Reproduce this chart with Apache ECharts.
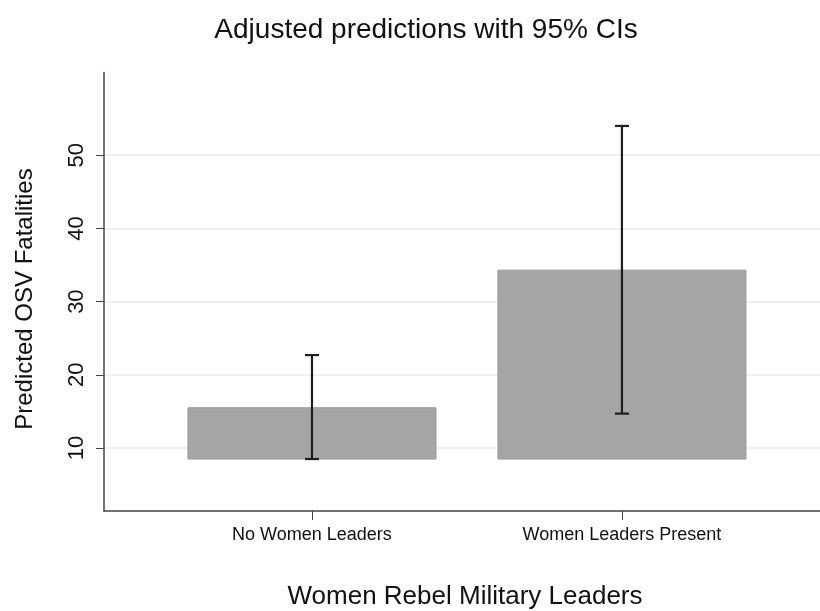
<!DOCTYPE html>
<html>
<head>
<meta charset="utf-8">
<script src="https://cdn.jsdelivr.net/npm/echarts@6/dist/echarts.min.js"></script>
<style>
html,body{margin:0;padding:0;background:#fff;}
#chart{width:820px;height:611px;}
</style>
</head>
<body>
<div id="chart"></div>
<script>
// ---- data ----
var categories = ['No Women Leaders', 'Women Leaders Present'];
var categoryPos = [1, 2];
var predicted = [15.5, 34.3];
var ciLower = [8.5, 14.7];
var ciUpper = [22.7, 54.0];
var barBase = 8.5;
var yTicks = [10, 20, 30, 40, 50];

var FONT = '"Liberation Sans", Arial, Helvetica, sans-serif';

var seriesData = categories.map(function (c, i) {
  return [categoryPos[i], predicted[i], ciLower[i], ciUpper[i]];
});

var chart = echarts.init(document.getElementById('chart'));

chart.setOption({
  backgroundColor: '#ffffff',
  animation: false,
  grid: { left: 104, right: 0, top: 72.5, bottom: 100 },
  xAxis: {
    type: 'value',
    min: 0.329,
    max: 2.639,
    axisLine: { show: true, lineStyle: { color: '#444', width: 1.5 } },
    axisTick: { show: true, length: 9, customValues: categoryPos, lineStyle: { color: '#444', width: 1 } },
    axisLabel: {
      show: true,
      customValues: categoryPos,
      margin: 15,
      fontFamily: FONT,
      fontSize: 18,
      color: '#111',
      formatter: function (v) {
        var idx = categoryPos.indexOf(Math.round(v));
        return idx >= 0 ? categories[idx] : '';
      }
    },
    splitLine: { show: false }
  },
  yAxis: {
    type: 'value',
    min: 1.4,
    max: 61.3,
    axisLine: { show: true, lineStyle: { color: '#444', width: 1.5 } },
    axisTick: { show: true, length: 8, customValues: yTicks, lineStyle: { color: '#444', width: 1 } },
    axisLabel: {
      show: true,
      customValues: yTicks,
      rotate: 90,
      margin: 16,
      fontFamily: FONT,
      fontSize: 22,
      color: '#111'
    },
    splitLine: { show: true, lineStyle: { color: '#ebebeb', width: 1.5 } }
  },
  graphic: [
    {
      type: 'text', x: 426, y: 30,
      style: { text: 'Adjusted predictions with 95% CIs', font: '28px ' + FONT, fill: '#111', textAlign: 'center', textVerticalAlign: 'middle' }
    },
    {
      type: 'text', x: 25, y: 299, rotation: Math.PI / 2,
      style: { text: 'Predicted OSV Fatalities', font: '24px ' + FONT, fill: '#111', textAlign: 'center', textVerticalAlign: 'middle' }
    },
    {
      type: 'text', x: 465, y: 597,
      style: { text: 'Women Rebel Military Leaders', font: '26px ' + FONT, fill: '#111', textAlign: 'center', textVerticalAlign: 'middle' }
    }
  ],
  series: [
    {
      type: 'custom',
      data: seriesData,
      encode: { x: 0, y: [1, 2, 3] },
      renderItem: function (params, api) {
        var x = api.value(0);
        var p = api.value(1);
        var lo = api.value(2);
        var hi = api.value(3);
        var w = api.size([0.8, 0])[0];
        var topLeft = api.coord([x, p]);
        var base = api.coord([x, barBase]);
        var hiPt = api.coord([x, hi]);
        var loPt = api.coord([x, lo]);
        var cap = 7;
        var lineStyle = { stroke: '#1e1e1e', lineWidth: 2.2, fill: null };
        return {
          type: 'group',
          children: [
            {
              type: 'rect',
              shape: { x: topLeft[0] - w / 2, y: topLeft[1], width: w, height: base[1] - topLeft[1] },
              style: { fill: '#a5a5a5', stroke: '#979797', lineWidth: 1 }
            },
            { type: 'line', shape: { x1: hiPt[0], y1: hiPt[1], x2: loPt[0], y2: loPt[1] }, style: lineStyle },
            { type: 'line', shape: { x1: hiPt[0] - cap, y1: hiPt[1], x2: hiPt[0] + cap, y2: hiPt[1] }, style: lineStyle },
            { type: 'line', shape: { x1: loPt[0] - cap, y1: loPt[1], x2: loPt[0] + cap, y2: loPt[1] }, style: lineStyle }
          ]
        };
      }
    }
  ]
});
</script>
</body>
</html>
